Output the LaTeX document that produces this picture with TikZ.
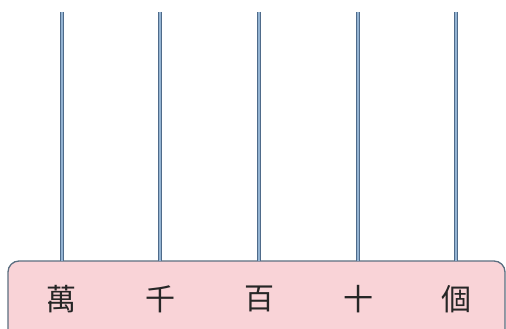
\documentclass[tikz,border=0pt]{standalone}
\usepackage{fontspec}
\newfontfamily\cjk{Noto Sans CJK TC}
\definecolor{boxfill}{HTML}{F9D3D7}
\definecolor{boxline}{HTML}{5B6E80}
\definecolor{rodout}{HTML}{4F6B8A}
\definecolor{rodin}{HTML}{93B3D2}
\tikzset{
  rod/.style={draw=rodout, double=rodin, double distance=2pt, line width=1.3pt},
  digit/.style={font=\cjk\fontsize{30}{30}\selectfont, text=black!85, inner sep=0pt, anchor=center},
  basebox/.style={draw=boxline, fill=boxfill, line width=1.3pt, rounded corners=11pt}
}
\begin{document}
\begin{tikzpicture}[x=1pt,y=-1pt]
\useasboundingbox (0,0) rectangle (506,329);
\clip (0,0) rectangle (506,329);
\draw[basebox] (8,261) rectangle (505,345);
\coordinate (boxtop) at (0,261);
\node[digit] (wan) at (61,299) {萬};
\node[digit] (qian) at (160,299) {千};
\node[digit] (bai) at (259,299) {百};
\node[digit] (shi) at (358,299) {十};
\node[digit] (ge) at (456,299) {個};
\foreach \n/\x in {wan/62,qian/160,bai/259,shi/358,ge/456}{
  \coordinate (\n top) at (\x,12);
  \draw[rod] (\n top) -- (\n top |- boxtop);
}
\end{tikzpicture}
\end{document}
